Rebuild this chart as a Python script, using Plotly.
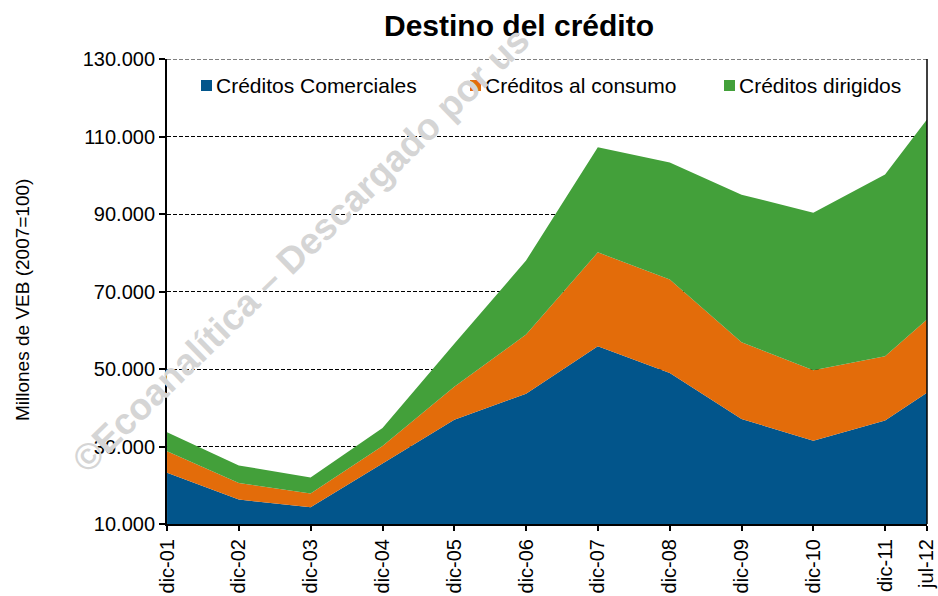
import plotly.graph_objects as go

# ---- data ----
fechas = ["2001-12-01", "2002-12-01", "2003-12-01", "2004-12-01", "2005-12-01", "2006-12-01",
          "2007-12-01", "2008-12-01", "2009-12-01", "2010-12-01", "2011-12-01", "2012-07-01"]
etiquetas = ["dic-01", "dic-02", "dic-03", "dic-04", "dic-05", "dic-06",
             "dic-07", "dic-08", "dic-09", "dic-10", "dic-11", "jul-12"]
comerciales = [23200, 16300, 14300, 25600, 36900, 43600, 55900, 49000, 37100, 31500, 36700, 43900]
consumo = [5600, 4300, 3600, 4500, 8500, 15300, 24200, 24100, 19800, 18200, 16600, 18900]
dirigidos = [4900, 4500, 4100, 4700, 11100, 19100, 27100, 30200, 38100, 40600, 46900, 51600]
nombres = ["Créditos Comerciales", "Créditos al consumo", "Créditos dirigidos"]
colores = ["#02558B", "#E36C0A", "#43A03A"]
y_ticks = [10000, 30000, 50000, 70000, 90000, 110000, 130000]

FONT = "Liberation Sans, Arial, sans-serif"

fig = go.Figure()
for serie, nombre, color in zip([comerciales, consumo, dirigidos], nombres, colores):
    fig.add_trace(go.Scatter(
        x=fechas, y=serie, name=nombre, stackgroup="one", mode="none",
        fillcolor=color, line=dict(width=0), showlegend=False, hoverinfo="skip",
    ))

W, H = 938, 596
L, R, T, B = 167, 11, 59, 72
pw, ph = W - L - R, H - T - B
def px(xp):
    return (xp - L) / pw
def py(yp):
    return (H - B - yp) / ph

# legend drawn as coloured squares + labels
leg_x = [201, 470, 724]
for xs, nombre, color in zip(leg_x, nombres, colores):
    fig.add_shape(type="rect", xref="paper", yref="paper",
                  x0=px(xs), x1=px(xs + 11), y0=py(91), y1=py(80),
                  fillcolor=color, line=dict(width=0), layer="above")
    fig.add_annotation(xref="paper", yref="paper", x=px(xs + 13), y=py(85),
                       xanchor="left", yanchor="middle", showarrow=False,
                       text=nombre, font=dict(family=FONT, size=21, color="#000000"))

# top dashed gridline (130.000) and right border line
fig.add_shape(type="line", xref="paper", yref="y", x0=0, x1=1, y0=y_ticks[-1], y1=y_ticks[-1],
              line=dict(color="#000000", width=1, dash="4px,2px"), layer="below")
fig.add_shape(type="line", xref="paper", yref="paper", x0=1, x1=1, y0=0, y1=1,
              line=dict(color="#000000", width=1.5), layer="above")

# y-axis title
fig.add_annotation(xref="paper", yref="paper", x=px(22), y=py(300),
                   xanchor="center", yanchor="middle", showarrow=False, textangle=-90,
                   text="Millones de VEB (2007=100)",
                   font=dict(family=FONT, size=19, color="#000000"))

# watermark
fig.add_annotation(xref="paper", yref="paper", x=px(300), y=py(250),
                   xanchor="center", yanchor="middle", showarrow=False, textangle=-44.2,
                   text="<b>©Ecoanalítica – Descargado por us</b>",
                   font=dict(family=FONT, size=37, color="#d5d5d5"))

fig.update_layout(
    width=W, height=H,
    margin=dict(l=L, r=R, t=T, b=B),
    paper_bgcolor="#ffffff", plot_bgcolor="#ffffff",
    separators=",.",
    showlegend=False,
    title=dict(text="<b>Destino del crédito</b>", x=519 / W, xanchor="center",
               y=1 - 25 / H, yanchor="middle",
               font=dict(family=FONT, size=30, color="#000000")),
    xaxis=dict(
        type="date", range=["2001-11-30 18:00", "2012-07-01 06:00"], automargin=False,
        tickmode="array", tickvals=fechas, ticktext=etiquetas, tickangle=-90,
        ticklabeloverflow="allow",
        ticks="outside", ticklen=5, tickwidth=1.5, tickcolor="#000000",
        showline=True, linecolor="#000000", linewidth=2,
        showgrid=False, zeroline=False,
        tickfont=dict(family=FONT, size=20, color="#000000"),
    ),
    yaxis=dict(
        range=[10000, 130000], tickmode="array", tickvals=y_ticks, tickformat=",d",
        automargin=False,
        ticks="outside", ticklen=6, tickwidth=1.5, tickcolor="#000000",
        showline=True, linecolor="#000000", linewidth=2,
        showgrid=True, gridcolor="#000000", gridwidth=1, griddash="4px,2px",
        zeroline=False,
        tickfont=dict(family=FONT, size=20, color="#000000"),
    ),
)

fig.write_html("out.html", config={"displayModeBar": False},
               post_script="document.body.style.margin='0';document.body.style.overflow='hidden';")
